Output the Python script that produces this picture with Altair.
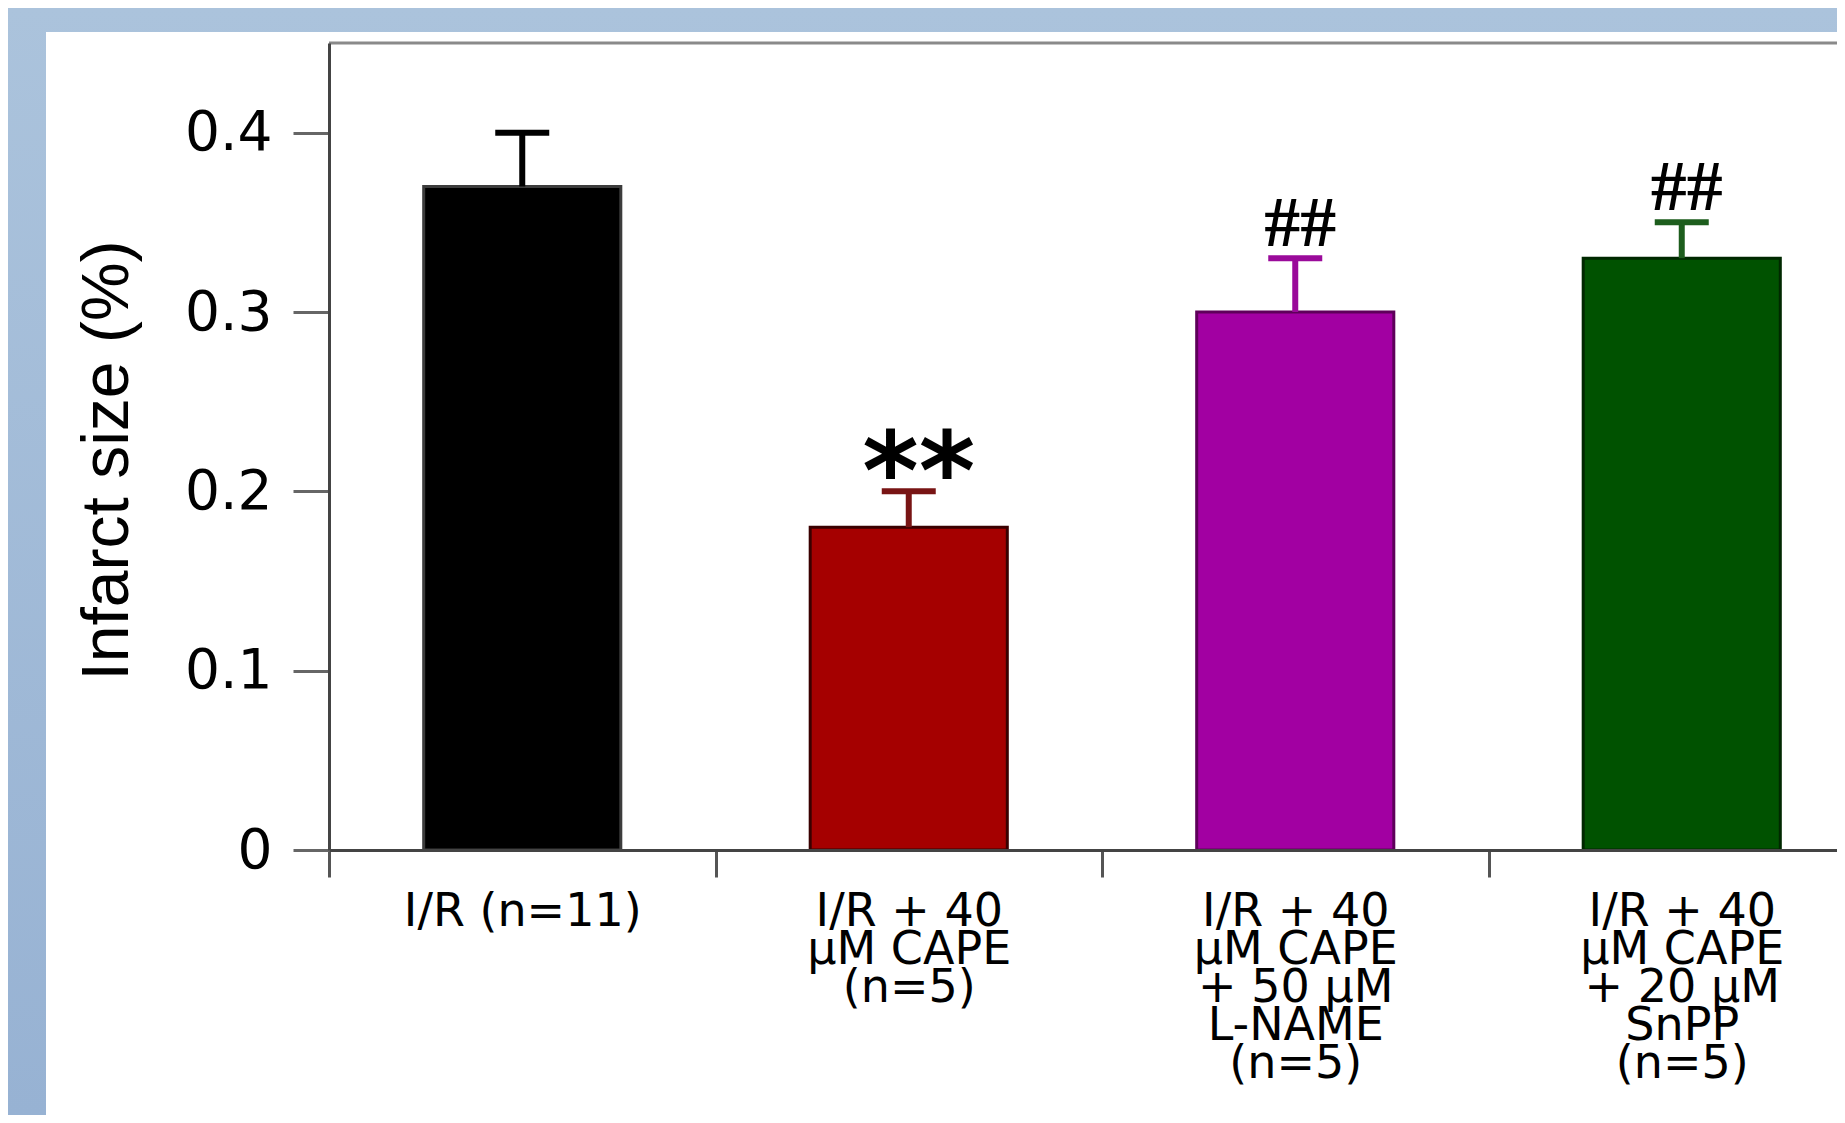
import altair as alt
import pandas as pd

# ---- data ----
categories = [
    "I/R (n=11)",
    "I/R + 40\nµM CAPE\n(n=5)",
    "I/R + 40\nµM CAPE\n+ 50 µM\nL-NAME\n(n=5)",
    "I/R + 40\nµM CAPE\n+ 20 µM\nSnPP\n(n=5)",
]
infarct_size = [0.37, 0.18, 0.30, 0.33]
sem = [0.03, 0.02, 0.03, 0.02]
significance = ["", "**", "##", "##"]
y_ticks = [0, 0.1, 0.2, 0.3, 0.4]

# ---- style ----
bar_fill = ["#000000", "#a50000", "#a200a2", "#005200"]
bar_edge = ["#3c3c3c", "#3a0000", "#5e005a", "#002800"]
err_color = ["#000000", "#781414", "#9a0a9a", "#1d5d1d"]

W, H = 1508, 807
STEP = 386.5

df = pd.DataFrame({
    "group": categories,
    "value": infarct_size,
    "err": sem,
    "sig": significance,
    "fill": bar_fill,
    "edge": bar_edge,
    "errc": err_color,
})
one = pd.DataFrame({"k": [0]})

x_scale = alt.Scale(domain=categories, range=[0, STEP * len(categories)],
                    paddingInner=0, paddingOuter=0)
y_scale = alt.Scale(domain=[0, 0.45], nice=False)

x_axis = alt.Axis(
    title=None, labelExpr="split(datum.label, '\\n')", labelAngle=0,
    labelAlign="center", labelBaseline="top", labelFont="DejaVu Sans",
    labelFontSize=46, labelLineHeight=38, labelColor="#000000",
    labelLimit=600, labelPadding=12, labelOverlap=False,
    tickBand="extent", tickSize=27, tickWidth=3, tickColor="#555555",
    domainColor="#444444", domainWidth=3, zindex=1,
)
y_axis = alt.Axis(
    values=y_ticks, format=".1~f", title="Infarct size (%)",
    titleFont="Liberation Sans", titleFontSize=66, titleFontWeight="normal",
    titleColor="#000000", titleAngle=270, titleX=-202, titleY=417,
    titleAlign="center", titleBaseline="alphabetic",
    labelFont="DejaVu Sans", labelFontSize=55, labelColor="#000000",
    labelPadding=21, tickSize=36, tickWidth=3, tickColor="#666666",
    domainColor="#444444", domainWidth=3, grid=False, zindex=1,
)

gradient = alt.LinearGradient(
    gradient="linear",
    stops=[alt.GradientStop(color="#abc3dc", offset=0),
           alt.GradientStop(color="#97b2d3", offset=1)],
    x1=0, x2=0, y1=0, y2=1,
)

bg = alt.Chart(one).mark_rect(fill=gradient).encode(
    x=alt.value(-321), x2=alt.value(W), y=alt.value(-35), y2=alt.value(1072))
panel = alt.Chart(one).mark_rect(fill="#ffffff").encode(
    x=alt.value(-283), x2=alt.value(W), y=alt.value(-11), y2=alt.value(1072))

base = alt.Chart(df).transform_calculate(top="datum.value + datum.err")

bars = base.mark_bar(width=alt.RelativeBandSize(0.51), strokeWidth=3).encode(
    x=alt.X("group:N", scale=x_scale, axis=x_axis),
    y=alt.Y("value:Q", scale=y_scale, axis=y_axis),
    fill=alt.Fill("fill:N", scale=None),
    stroke=alt.Stroke("edge:N", scale=None),
)
err = base.mark_rule(strokeWidth=6, opacity=1).encode(
    x=alt.X("group:N", scale=x_scale),
    y=alt.Y("value:Q", scale=y_scale),
    y2="top:Q",
    stroke=alt.Stroke("errc:N", scale=None),
)
caps = base.mark_tick(size=54, thickness=6, opacity=1).encode(
    x=alt.X("group:N", scale=x_scale),
    y=alt.Y("top:Q", scale=y_scale),
    color=alt.Color("errc:N", scale=None),
)
stars = base.transform_filter(alt.datum.sig == "**").mark_text(
    font="DejaVu Sans", fontWeight="bold", fontSize=108, dy=18, dx=10,
    baseline="alphabetic", color="#000000").encode(
    x=alt.X("group:N", scale=x_scale),
    y=alt.Y("top:Q", scale=y_scale),
    text="sig:N",
)
hashes = base.transform_filter(alt.datum.sig == "##").mark_text(
    font="Liberation Serif", fontWeight="bold", fontSize=72, dy=-12, dx=5,
    baseline="alphabetic", color="#000000").encode(
    x=alt.X("group:N", scale=x_scale),
    y=alt.Y("top:Q", scale=y_scale),
    text="sig:N",
)
frame_top = alt.Chart(one).mark_rule(color="#8a8a8a", strokeWidth=3).encode(
    x=alt.value(0), x2=alt.value(W), y=alt.value(0))

chart = alt.layer(bg, panel, bars, err, caps, stars, hashes, frame_top).properties(
    width=W, height=H,
    autosize=alt.AutoSizeParams(type="none"),
    padding={"left": 321, "top": 35, "right": 0, "bottom": 265},
    background="#abc3dc",
).configure_view(strokeWidth=0)

chart.save("out.html", embed_options={"renderer": "svg", "actions": False})
